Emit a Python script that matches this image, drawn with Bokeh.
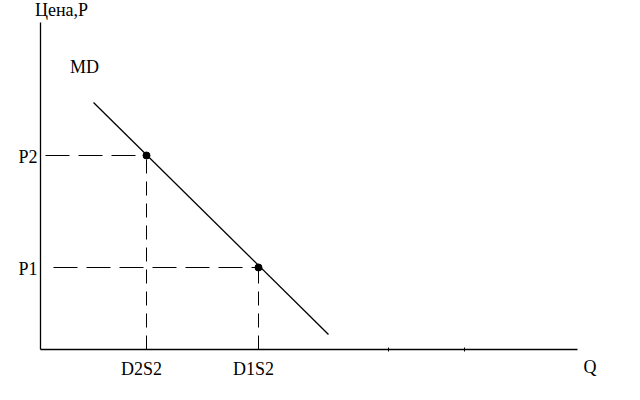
from bokeh.plotting import figure
from bokeh.models import Range1d
from bokeh.core.properties import value
from bokeh.embed import file_html
from bokeh.resources import INLINE

# ---- data ----
md_q = [5.3, 28.8]          # demand curve MD end points (quantity)
md_p = [24.7, 1.5]          # demand curve MD end points (price)
eq_q = [10.6, 21.8]         # quantities D2S2, D1S2
eq_p = [19.4, 8.2]          # prices P2, P1
q_labels = ["D2S2", "D1S2"]
p_labels = ["P2", "P1"]
guide_start_q = [0.5, 1.3]
minor_q = [34.8, 42.4]
q_axis_end = 53.7
p_axis_end = 32.7

FONT = value("Liberation Serif")
FS = value("18px")

p = figure(width=632, height=392, output_backend="svg", toolbar_location=None,
           x_range=Range1d(-4.0, 59.2), y_range=Range1d(-4.3, 34.9),
           x_axis_location=None, y_axis_location=None,
           min_border=0, min_border_left=0, min_border_right=0,
           min_border_top=0, min_border_bottom=0)
p.outline_line_color = None
p.xgrid.visible = False
p.ygrid.visible = False
p.background_fill_color = "white"
p.border_fill_color = "white"

# axes (drawn in data coordinates)
p.segment(x0=[0, 0], y0=[0, 0], x1=[q_axis_end, 0], y1=[0, p_axis_end],
          line_color="black", line_width=1.3)
p.segment(x0=minor_q, y0=[-0.2] * len(minor_q), x1=minor_q, y1=[0.2] * len(minor_q),
          line_color="black", line_width=1)

# demand curve
p.line(md_q, md_p, line_color="black", line_width=1.3)

# dashed guides
p.segment(x0=guide_start_q, y0=eq_p, x1=eq_q, y1=eq_p,
          line_color="black", line_width=1, line_dash="24 9")
p.segment(x0=eq_q, y0=[0, 0], x1=eq_q, y1=eq_p,
          line_color="black", line_width=1, line_dash="14 8")

# equilibrium points
p.scatter(eq_q, eq_p, size=7, color="black")

# tick labels
p.text(x=eq_q, y=[-1.95] * len(eq_q), text=q_labels, text_font=FONT, text_font_size=FS,
       text_color="black", text_align="center", text_baseline="middle", x_offset=-5)
p.text(x=[-0.3] * len(eq_p), y=eq_p, text=p_labels, text_font=FONT, text_font_size=FS,
       text_color="black", text_align="right", text_baseline="middle", y_offset=1)

# axis titles and curve name
p.text(x=[-0.55, 2.95, 54.3], y=[33.95, 28.3, -1.7], text=["Цена,P", "MD", "Q"],
       text_font=FONT, text_font_size=FS, text_color="black",
       text_align="left", text_baseline="middle")

open("out.html", "w").write(file_html(p, INLINE))
